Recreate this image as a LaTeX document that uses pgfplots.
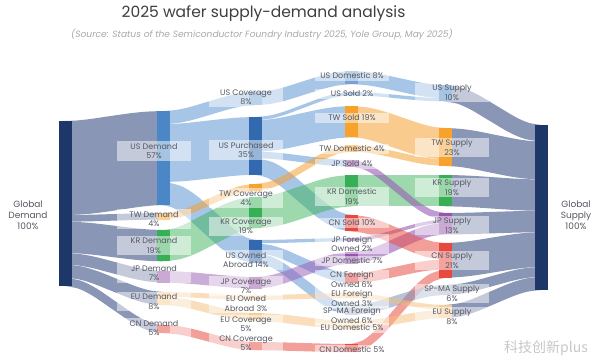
\documentclass[border=0pt]{standalone}
\usepackage{pgfplots}
\pgfplotsset{compat=1.18}
\usepackage{fontspec}
\setmainfont{Poppins}
\newfontfamily\cjk{Noto Sans CJK SC}

\definecolor{navy}{RGB}{30,55,105}
\definecolor{slate}{RGB}{105,120,162}
\definecolor{usfl}{RGB}{80,140,205}
\definecolor{twfl}{RGB}{245,160,50}
\definecolor{krfl}{RGB}{60,180,90}
\definecolor{jpfl}{RGB}{150,90,180}
\definecolor{eufl}{RGB}{245,190,120}
\definecolor{cnfl}{RGB}{232,80,70}
\definecolor{spfl}{RGB}{130,145,180}
\definecolor{usA}{RGB}{75,135,198}
\definecolor{usB}{RGB}{120,162,212}
\definecolor{usC}{RGB}{50,105,175}
\definecolor{tw}{RGB}{246,162,45}
\definecolor{kr}{RGB}{55,175,85}
\definecolor{jp}{RGB}{150,85,170}
\definecolor{eu}{RGB}{247,205,150}
\definecolor{cn}{RGB}{232,72,62}
\definecolor{sp}{RGB}{175,185,205}
\definecolor{txt}{RGB}{85,88,98}

% flow: x1 y1 (centre at source), x2 y2 (centre at target), value in %, colour, opacity
\newcommand\lnk[7]{%
  \pgfmathsetmacro\Dx{#3-#1}\pgfmathsetmacro\Dy{#4-#2}%
  \pgfmathsetmacro\xa{#1+0.15*\Dx}\pgfmathsetmacro\ya{#2+0.06075*\Dy}%
  \pgfmathsetmacro\xb{#1+0.30*\Dx}\pgfmathsetmacro\yb{#2+0.216*\Dy}%
  \pgfmathsetmacro\xc{#1+0.50*\Dx}\pgfmathsetmacro\yc{#2+0.5*\Dy}%
  \pgfmathsetmacro\xd{#1+0.70*\Dx}\pgfmathsetmacro\yd{#2+0.784*\Dy}%
  \pgfmathsetmacro\xe{#1+0.85*\Dx}\pgfmathsetmacro\ye{#2+0.93925*\Dy}%
  \pgfmathsetmacro\W{1.65*#5}%
  \edef\tmp{\noexpand\addplot[smooth,forget plot,draw=#6,draw opacity=#7,line width=\W pt]
    coordinates {(#1,#2) (\xa,\ya) (\xb,\yb) (\xc,\yc) (\xd,\yd) (\xe,\ye) (#3,#4)};}\tmp}
% node bar: x, top, bottom, colour
\newcommand\nd[4]{\addplot[forget plot,draw=#4,line width=13pt] coordinates {(#1,#2) (#1,#3)};}

\tikzset{lbl/.style={font=\fontsize{8}{9.3}\selectfont, text=txt, align=center,
  fill=white, fill opacity=0.5, text opacity=1, inner sep=2pt, minimum width=74pt}}

\begin{document}
\begin{tikzpicture}
\path (0,0) rectangle (600pt,363pt);
\begin{axis}[at={(0,0)},anchor=south west,width=600pt,height=363pt,scale only axis,
  xmin=0,xmax=600,ymin=0,ymax=363,y dir=reverse,hide axis,clip=false]

% Global demand -> demand
\lnk{65}{168.03}{163.5}{158.03}{57}{slate}{0.78}
\lnk{65}{218.35}{163.5}{216.3}{4}{slate}{0.78}
\lnk{65}{237.33}{163.5}{245.68}{19}{slate}{0.78}
\lnk{65}{258.78}{163.5}{276.78}{7}{slate}{0.78}
\lnk{65}{271.15}{163.5}{298.6}{8}{slate}{0.78}
\lnk{65}{281.88}{163.5}{329.13}{5}{slate}{0.78}
% demand -> coverage / purchased / owned abroad
\lnk{163.5}{117.6}{255.5}{98.6}{8}{usfl}{0.5}
\lnk{163.5}{153.08}{255.5}{145.88}{35}{usfl}{0.5}
\lnk{163.5}{193.5}{255.5}{251.55}{14}{usfl}{0.5}
\lnk{163.5}{216.3}{255.5}{187.3}{4}{twfl}{0.55}
\lnk{163.5}{245.68}{255.5}{212.68}{19}{krfl}{0.5}
\lnk{163.5}{276.78}{255.5}{282.78}{7}{jpfl}{0.5}
\lnk{163.5}{294.48}{255.5}{297.48}{3}{eufl}{0.5}
\lnk{163.5}{301.08}{255.5}{317.13}{5}{eufl}{0.5}
\lnk{163.5}{329.13}{255.5}{346.13}{5}{cnfl}{0.55}
% -> sold / domestic / foreign owned
\lnk{255.5}{98.6}{351.5}{77.6}{8}{usfl}{0.5}
\lnk{255.5}{118.65}{351.5}{93.65}{2}{usfl}{0.5}
\lnk{255.5}{135.98}{351.5}{121.68}{19}{usfl}{0.5}
\lnk{255.5}{154.95}{351.5}{163.3}{4}{usfl}{0.5}
\lnk{255.5}{166.5}{351.5}{223.25}{10}{usfl}{0.5}
\lnk{255.5}{187.3}{351.5}{148.3}{4}{twfl}{0.55}
\lnk{255.5}{212.68}{351.5}{190.68}{19}{krfl}{0.5}
\lnk{255.5}{241.65}{351.5}{239.65}{2}{usfl}{0.5}
\lnk{255.5}{248.25}{351.5}{277.95}{6}{usfl}{0.5}
\lnk{255.5}{258.15}{351.5}{309.95}{6}{usfl}{0.5}
\lnk{255.5}{282.78}{351.5}{257.78}{7}{jpfl}{0.5}
\lnk{255.5}{297.48}{351.5}{295.48}{3}{eufl}{0.5}
\lnk{255.5}{317.13}{351.5}{325.13}{5}{eufl}{0.5}
\lnk{255.5}{346.13}{351.5}{348.13}{5}{cnfl}{0.55}
% -> supply
\lnk{351.5}{77.6}{445}{91.6}{8}{usfl}{0.5}
\lnk{351.5}{93.65}{445}{99.85}{2}{usfl}{0.5}
\lnk{351.5}{121.68}{445}{143.68}{19}{twfl}{0.55}
\lnk{351.5}{148.3}{445}{162.65}{4}{twfl}{0.55}
\lnk{351.5}{190.68}{445}{190.68}{19}{krfl}{0.5}
\lnk{351.5}{163.3}{445}{216.3}{4}{jpfl}{0.6}
\lnk{351.5}{239.65}{445}{221.25}{2}{jpfl}{0.6}
\lnk{351.5}{257.78}{445}{228.68}{7}{jpfl}{0.6}
\lnk{351.5}{223.25}{445}{251.25}{10}{cnfl}{0.55}
\lnk{351.5}{277.95}{445}{264.45}{6}{cnfl}{0.55}
\lnk{351.5}{348.13}{445}{273.53}{5}{cnfl}{0.55}
\lnk{351.5}{309.95}{445}{289.95}{6}{spfl}{0.55}
\lnk{351.5}{295.48}{445}{307.48}{3}{eufl}{0.5}
\lnk{351.5}{325.13}{445}{314.08}{5}{eufl}{0.5}
% supply -> global supply
\lnk{445}{93.25}{541}{133.25}{10}{slate}{0.78}
\lnk{445}{146.98}{541}{160.48}{23}{slate}{0.78}
\lnk{445}{190.68}{541}{195.13}{19}{slate}{0.78}
\lnk{445}{223.73}{541}{221.53}{13}{slate}{0.78}
\lnk{445}{260.33}{541}{249.58}{21}{slate}{0.78}
\lnk{445}{289.95}{541}{271.85}{6}{slate}{0.78}
\lnk{445}{311.6}{541}{283.4}{8}{slate}{0.78}

% node bars
\nd{65}{121}{286}{navy}
\nd{163.5}{111}{205.05}{usA}
\nd{163.5}{213}{219.6}{tw}
\nd{163.5}{230}{261.35}{kr}
\nd{163.5}{271}{282.55}{jp}
\nd{163.5}{292}{305.2}{eu}
\nd{163.5}{325}{333.25}{cn}
\nd{255.5}{92}{105.2}{usB}
\nd{255.5}{117}{174.75}{usC}
\nd{255.5}{184}{190.6}{tw}
\nd{255.5}{197}{228.35}{kr}
\nd{255.5}{240}{263.1}{usC}
\nd{255.5}{277}{288.55}{jp}
\nd{255.5}{295}{299.95}{eu}
\nd{255.5}{313}{321.25}{eu}
\nd{255.5}{342}{350.25}{cn}
\nd{351.5}{71}{84.2}{usB}
\nd{351.5}{92}{95.3}{usB}
\nd{351.5}{106}{137.35}{tw}
\nd{351.5}{145}{151.6}{tw}
\nd{351.5}{160}{166.6}{jp}
\nd{351.5}{175}{206.35}{kr}
\nd{351.5}{215}{231.5}{cn}
\nd{351.5}{238}{241.3}{jp}
\nd{351.5}{252}{263.55}{jp}
\nd{351.5}{273}{282.9}{cn}
\nd{351.5}{293}{297.95}{eu}
\nd{351.5}{305}{314.9}{sp}
\nd{351.5}{321}{329.25}{eu}
\nd{351.5}{344}{352.25}{cn}
\nd{445}{85}{101.5}{usA}
\nd{445}{128}{165.95}{tw}
\nd{445}{175}{206.35}{kr}
\nd{445}{213}{234.45}{jp}
\nd{445}{243}{277.65}{cn}
\nd{445}{285}{294.9}{sp}
\nd{445}{305}{318.2}{eu}
\nd{541}{125}{290}{navy}

% labels
\node[lbl] at (axis cs:154,151) {US Demand\\57\%};
\node[lbl] at (axis cs:154,219) {TW Demand\\4\%};
\node[lbl] at (axis cs:154,245.5) {KR Demand\\19\%};
\node[lbl] at (axis cs:154,273) {JP Demand\\7\%};
\node[lbl] at (axis cs:154,301.5) {EU Demand\\8\%};
\node[lbl] at (axis cs:154,328) {CN Demand\\5\%};
\node[lbl] at (axis cs:246,97) {US Coverage\\8\%};
\node[lbl] at (axis cs:246,150) {US Purchased\\35\%};
\node[lbl] at (axis cs:246,198) {TW Coverage\\4\%};
\node[lbl] at (axis cs:246,226.5) {KR Coverage\\19\%};
\node[lbl] at (axis cs:246,260) {US Owned\\Abroad 14\%};
\node[lbl] at (axis cs:246,286) {JP Coverage\\7\%};
\node[lbl] at (axis cs:246,303.5) {EU Owned\\Abroad 3\%};
\node[lbl] at (axis cs:246,324.5) {EU Coverage\\5\%};
\node[lbl] at (axis cs:246,343.5) {CN Coverage\\5\%};
\node[lbl] at (axis cs:352,76) {US Domestic 8\%};
\node[lbl] at (axis cs:352,94) {US Sold 2\%};
\node[lbl] at (axis cs:352,118) {TW Sold 19\%};
\node[lbl] at (axis cs:352,149) {TW Domestic 4\%};
\node[lbl] at (axis cs:352,164) {JP Sold 4\%};
\node[lbl] at (axis cs:352,196.5) {KR Domestic\\19\%};
\node[lbl] at (axis cs:352,223) {CN Sold 10\%};
\node[lbl] at (axis cs:352,244) {JP Foreign\\Owned 2\%};
\node[lbl] at (axis cs:352,261) {JP Domestic 7\%};
\node[lbl] at (axis cs:352,279.5) {CN Foreign\\Owned 6\%};
\node[lbl] at (axis cs:352,298.5) {EU Foreign\\Owned 3\%};
\node[lbl] at (axis cs:352,315.5) {SP-MA Foreign\\Owned 6\%};
\node[lbl] at (axis cs:352,328) {EU Domestic 5\%};
\node[lbl] at (axis cs:352,350) {CN Domestic 5\%};
\node[lbl] at (axis cs:452,92.5) {US Supply\\10\%};
\node[lbl] at (axis cs:452,147.5) {TW Supply\\23\%};
\node[lbl] at (axis cs:452,187.5) {KR Supply\\19\%};
\node[lbl] at (axis cs:452,225.5) {JP Supply\\13\%};
\node[lbl] at (axis cs:452,260.5) {CN Supply\\21\%};
\node[lbl] at (axis cs:452,293.5) {SP-MA Supply\\6\%};
\node[lbl] at (axis cs:452,316.5) {EU Supply\\8\%};

\node[font=\fontsize{9}{10.8}\selectfont,text=txt,align=center] at (axis cs:28,215) {Global\\Demand\\100\%};
\node[font=\fontsize{9}{10.8}\selectfont,text=txt,align=center] at (axis cs:576,215) {Global\\Supply\\100\%};

\node[font=\fontsize{15.5}{18}\selectfont,text={rgb,255:red,62;green,62;blue,66}] at (axis cs:263.5,14) {2025 wafer supply-demand analysis};
\node[font=\fontsize{9.1}{11}\selectfont\itshape,text={rgb,255:red,168;green,168;blue,170}] at (axis cs:262,34) {(Source: Status of the Semiconductor Foundry Industry 2025, Yole Group, May 2025)};
\node[font=\fontsize{14}{16}\selectfont\cjk,text=black!22] at (axis cs:546,348) {科技创新plus};
\end{axis}
\end{tikzpicture}
\end{document}
